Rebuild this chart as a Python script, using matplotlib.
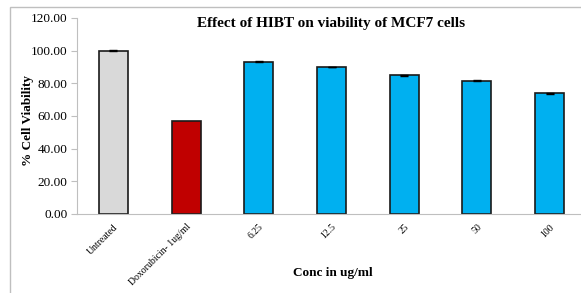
import matplotlib.pyplot as plt
from matplotlib.patches import Rectangle

categories = ["Untreated", "Doxorubicin- 1ug/ml", "6.25", "12.5", "25", "50", "100"]
viability = [100.0, 57.1, 93.2, 90.1, 85.0, 81.5, 73.9]
errors = [0.5, 0.0, 0.3, 0.2, 0.3, 0.3, 0.3]
colors = ["#d9d9d9", "#c00000", "#00b0f0", "#00b0f0", "#00b0f0", "#00b0f0", "#00b0f0"]

plt.rcParams["font.family"] = ["Liberation Serif", "DejaVu Serif"]

fig = plt.figure(figsize=(5.81, 2.93), dpi=100)
# outer chart frame
fig.patches.append(Rectangle((10 / 581, -0.1), 1.0, 1 - 7 / 293 + 0.1,
                             transform=fig.transFigure, fill=False,
                             edgecolor="#bfbfbf", linewidth=1.0))

ax = fig.add_axes([77 / 581, 1 - 214 / 293, 509 / 581, 196 / 293])
x = list(range(len(categories)))
ax.bar(x, viability, width=0.4, color=colors, edgecolor="#1a1a1a", linewidth=1.2)

# error bars only where there is one
ex = [i for i in x if errors[i] > 0]
ax.errorbar(ex, [viability[i] for i in ex], yerr=[errors[i] for i in ex], fmt="none",
            ecolor="black", capsize=3, elinewidth=1, capthick=1)

ax.set_xlim(-0.5, len(categories) - 0.5)
ax.set_ylim(0, 120)
ax.set_yticks(range(0, 121, 20))
ax.set_yticklabels(["%.2f" % v for v in range(0, 121, 20)], fontsize=9.5)
ax.set_xticks(x)
ax.set_xticklabels(categories, rotation=45, ha="right", rotation_mode="anchor", fontsize=7)
ax.tick_params(axis="x", length=0, pad=6)
ax.tick_params(axis="y", length=4, color="#bfbfbf", pad=3)

for s in ["top", "right"]:
    ax.spines[s].set_visible(False)
ax.spines["left"].set_color("#bfbfbf")
ax.spines["bottom"].set_color("#bfbfbf")

fig.text(331 / 581, 1 - 24 / 293, "Effect of HIBT on viability of MCF7 cells",
         ha="center", va="center", fontsize=11, fontweight="bold")
fig.text(333 / 581, 1 - 273 / 293, "Conc in ug/ml", ha="center", va="center",
         fontsize=9.5, fontweight="bold")
fig.text(28 / 581, 1 - 121 / 293, "% Cell Viability", ha="center", va="center",
         rotation=90, fontsize=9.5, fontweight="bold")

fig.savefig("out.png", dpi=100)
